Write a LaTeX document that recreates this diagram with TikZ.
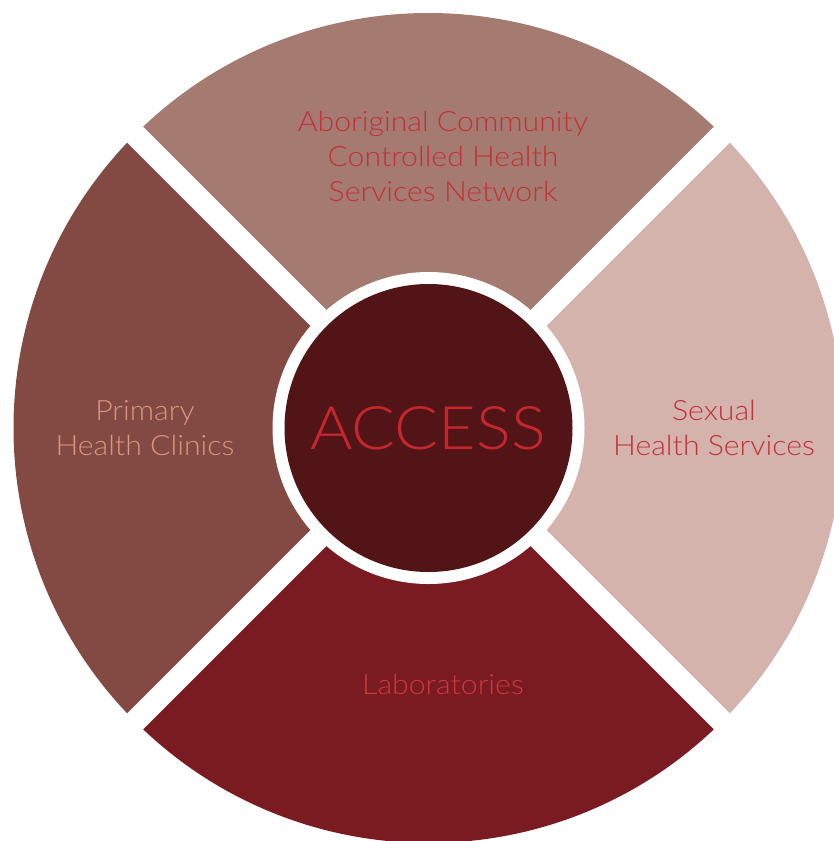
\documentclass[tikz,border=0pt]{standalone}
\usepackage{fontspec}
\newfontfamily\lightfont{Lato Light}[FakeStretch=1.08]
\definecolor{secTop}{HTML}{A57A70}
\definecolor{secRight}{HTML}{D4B3AC}
\definecolor{secBottom}{HTML}{7A1B22}
\definecolor{secLeft}{HTML}{834A44}
\definecolor{hub}{HTML}{521416}
\definecolor{txtRed}{HTML}{C4303B}
\definecolor{txtLab}{HTML}{CC3740}
\definecolor{txtPink}{HTML}{D9957F}
\definecolor{txtAccess}{HTML}{C6272F}
\begin{document}
\begin{tikzpicture}[x=1pt,y=-1pt,
  lbl/.style={align=center,font=\lightfont\fontsize{28}{35}\selectfont,inner sep=0pt},
  gapline/.style={white,line width=22.6pt}]
\useasboundingbox (0,0) rectangle (834,841);
\begin{scope}
\clip (0,0) rectangle (834,841);
\coordinate (c) at (428.5,428);
\fill[secRight] (c) -- ++(45:415) arc[start angle=45,end angle=-45,radius=415] -- cycle;
\fill[secTop] (c) -- ++(-45:415) arc[start angle=-45,end angle=-135,radius=415] -- cycle;
\fill[secLeft] (c) -- ++(-135:415) arc[start angle=-135,end angle=-225,radius=415] -- cycle;
\fill[secBottom] (c) -- ++(135:415) arc[start angle=135,end angle=45,radius=415] -- cycle;
\draw[gapline] (c) -- ++(45:440);
\draw[gapline] (c) -- ++(135:440);
\draw[gapline] (c) -- ++(225:440);
\draw[gapline] (c) -- ++(315:440);
\fill[white] (c) circle[radius=156];
\fill[hub] (c) circle[radius=144];
\end{scope}
\node[lbl,text=txtAccess,font=\lightfont\fontsize{60}{68}\selectfont] (access) at (428,428) {ACCESS};
\node[lbl,text=txtRed] (acchs) at (443,156) {Aboriginal Community\\Controlled Health\\Services Network};
\node[lbl,text=txtRed] (sexual) at (714,428) {Sexual\\Health Services};
\node[lbl,text=txtPink] (primary) at (145,428) {Primary\\Health Clinics};
\node[lbl,text=txtLab] (labs) at (443,684) {Laboratories};
\end{tikzpicture}
\end{document}
